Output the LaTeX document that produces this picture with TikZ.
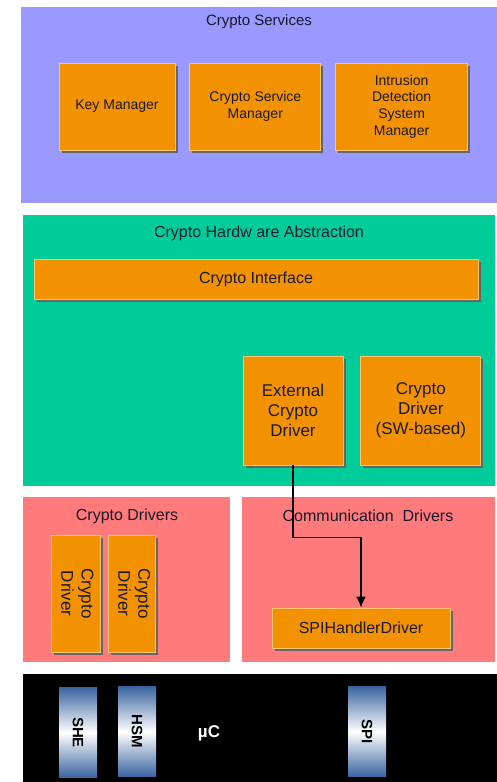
\documentclass[tikz,border=0pt]{standalone}
\usepackage{graphicx}
\usepackage{fontspec}
\setmainfont{Liberation Sans}
\usetikzlibrary{positioning, shadows, arrows.meta}
\definecolor{servicesblue}{RGB}{153,153,255}
\definecolor{hwgreen}{RGB}{0,204,153}
\definecolor{drvpink}{RGB}{255,122,122}
\definecolor{blockorange}{RGB}{243,146,0}
\definecolor{blockedge}{RGB}{255,196,110}
\definecolor{chipblue}{RGB}{58,100,160}
\definecolor{labeltext}{RGB}{25,25,45}
\tikzset{
x=1pt, y=-1pt, % pixel grid of the reference, y going down
layer/.style={draw=none, inner sep=0pt}, % the big coloured bands
title/.style={text=labeltext, font=\fontsize{16}{19}\selectfont}, % band captions
block/.style={fill=blockorange, draw=blockedge, line width=0.8pt, align=center, text=labeltext,
  drop shadow={shadow xshift=2.5pt, shadow yshift=-2.5pt, fill=black!60, opacity=1}}, % orange modules
chip/.style={draw=none, top color=chipblue, bottom color=chipblue, middle color=white, text=black,
  minimum width=38, minimum height=90, font=\fontsize{15}{18}\selectfont\bfseries}, % hardware parts
flow/.style={-{Latex[length=11pt, width=10pt]}, line width=1.8pt}, % call arrow
}
\newcommand{\vlabel}[2]{\rotatebox{-90}{\fontsize{17}{20}\selectfont\begin{tabular}{@{}c@{}}#1\\#2\end{tabular}}}

\begin{document}
\begin{tikzpicture}
    \useasboundingbox[fill=white] (0,0) rectangle (497,782);
    % crypto services
    \node[layer, fill=servicesblue, minimum width=476, minimum height=196] (services) at (259,105) {};
    \node[title, font=\fontsize{15}{18}\selectfont] (servicesT) at (259,22) {Crypto Services};
    \node[block, font=\fontsize{14}{16.7}\selectfont, minimum width=116, minimum height=87] (keym) at (117,106.5) {Key Manager};
    \node[block, font=\fontsize{14}{16.7}\selectfont, minimum width=131, minimum height=87, right=14pt of keym] (csm) {Crypto Service\\Manager};
    \node[block, font=\fontsize{14}{16.7}\selectfont, minimum width=132, minimum height=87, right=14pt of csm] (idsm) {Intrusion\\Detection\\System\\Manager};
    % hardware abstraction
    \node[layer, fill=hwgreen, minimum width=472, minimum height=271] (hwabs) at (259,350.5) {};
    \node[title] (hwabsT) at (259,233) {Crypto Hardw are Abstraction};
    \node[block, font=\fontsize{16}{19}\selectfont, minimum width=444, minimum height=40] (cryif) at (256,279) {Crypto Interface};
    \node[block, font=\fontsize{17}{20}\selectfont, minimum width=100, minimum height=109] (extdrv) at (293,410.5) {External\\Crypto\\Driver};
    \node[block, font=\fontsize{17}{20}\selectfont, minimum width=120, minimum height=109, right=17pt of extdrv] (swdrv) {Crypto\\Driver\\(SW-based)};
    % drivers
    \node[layer, fill=drvpink, minimum width=207, minimum height=165] (crydrv) at (126.5,579.5) {};
    \node[title] (crydrvT) at (127,516) {Crypto Drivers};
    \node[layer, fill=drvpink, minimum width=253, minimum height=165] (comdrv) at (368.5,579.5) {};
    \node[title] (comdrvT) at (368,516) {Communication\ \ Drivers};
    \node[block, minimum width=49, minimum height=117] (cd1) at (75.5,593.5) {\vlabel{Crypto}{Driver}};
    \node[block, minimum width=47, minimum height=117, right=8pt of cd1] (cd2) {\vlabel{Crypto}{Driver}};
    \node[block, font=\fontsize{16}{19}\selectfont, minimum width=178, minimum height=40] (spih) at (361,628) {SPIHandlerDriver};
    % microcontroller
    \node[layer, fill=black, minimum width=474, minimum height=108] (uc) at (260,728) {};
    \node[chip] (she) at (78,732.5) {\rotatebox{-90}{SHE}};
    \node[chip] (hsm) at (137,731.5) {\rotatebox{-90}{HSM}};
    \node[chip] (spi) at (367,731.5) {\rotatebox{-90}{SPI}};
    \node[text=white, font=\fontsize{17}{20}\selectfont\bfseries] (ucT) at (209,733) {µC};
    % external driver uses the SPI handler
    \draw[flow] (extdrv.south) -- ++(0,72) -| (spih.north);
\end{tikzpicture}
\end{document}
